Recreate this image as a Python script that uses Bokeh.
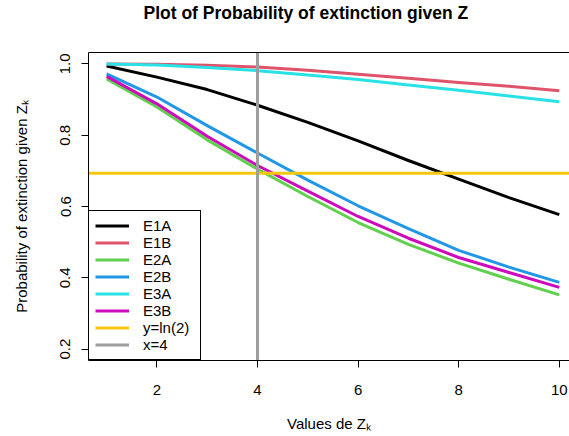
import numpy as np
from bokeh.plotting import figure
from bokeh.models import Range1d, LinearAxis, FixedTicker, Legend, LegendItem, Title
from bokeh.embed import file_html
from bokeh.resources import INLINE

# ---- data ----
Z = [1, 2, 3, 4, 5, 6, 7, 8, 9, 10]
E1A = [0.994, 0.963, 0.928, 0.884, 0.836, 0.784, 0.729, 0.677, 0.625, 0.577]
E1B = [1.000, 0.999, 0.996, 0.991, 0.982, 0.971, 0.960, 0.948, 0.937, 0.925]
E2A = [0.958, 0.879, 0.787, 0.705, 0.628, 0.555, 0.494, 0.441, 0.396, 0.352]
E2B = [0.972, 0.907, 0.827, 0.750, 0.674, 0.602, 0.538, 0.477, 0.430, 0.387]
E3A = [1.000, 0.997, 0.990, 0.981, 0.969, 0.956, 0.941, 0.926, 0.910, 0.894]
E3B = [0.965, 0.888, 0.797, 0.715, 0.643, 0.572, 0.511, 0.457, 0.415, 0.373]

SERIES_NAMES = ["E1A", "E1B", "E2A", "E2B", "E3A", "E3B"]
SERIES_VALUES = [E1A, E1B, E2A, E2B, E3A, E3B]
SERIES_COLORS = ["#000000", "#DF536B", "#61D04F", "#2297E6", "#28E2E5", "#CD0BBC"]

HLINE_Y = float(np.log(2))
HLINE_LABEL = "y=ln(2)"
HLINE_COLOR = "#F5C710"
VLINE_X = 4
VLINE_LABEL = "x=4"
VLINE_COLOR = "#9E9E9E"

X_TICKS = [2, 4, 6, 8, 10]
Y_TICKS = [0.2, 0.4, 0.6, 0.8, 1.0]
Y_TICK_LABELS = ["0.2", "0.4", "0.6", "0.8", "1.0"]

TITLE = "Plot of Probability of extinction given Z"
X_LABEL = "Values de Z\u2096"
Y_LABEL = "Probability of extinction given Z\u2096"

FONT = "Liberation Sans"

p = figure(width=569, height=436, output_backend="svg", toolbar_location=None,
           title=None,
           x_range=Range1d(0.64, 10.203), y_range=Range1d(0.168, 1.032),
           min_border_left=88, min_border_right=0, min_border_top=51,
           min_border_bottom=76,
           x_axis_label=X_LABEL, y_axis_label=Y_LABEL)
p.outline_line_color = None
p.grid.visible = False
p.background_fill_color = "white"
p.border_fill_color = "white"

for ax in (p.xaxis[0], p.yaxis[0]):
    ax.major_tick_out = 7
    ax.major_tick_in = 0
    ax.minor_tick_line_color = None
    ax.axis_line_color = "black"
    ax.major_tick_line_color = "black"
    ax.major_label_text_font = FONT
    ax.major_label_text_font_size = "15px"
    ax.major_label_text_color = "black"
    ax.axis_label_text_font = FONT
    ax.axis_label_text_font_size = "15px"
    ax.axis_label_text_font_style = "normal"
    ax.axis_label_text_color = "black"

p.xaxis[0].ticker = FixedTicker(ticks=X_TICKS)
p.xaxis[0].major_label_standoff = 17
p.xaxis[0].axis_label_standoff = 17

p.yaxis[0].ticker = FixedTicker(ticks=Y_TICKS)
p.yaxis[0].major_label_overrides = {t: l for t, l in zip(Y_TICKS, Y_TICK_LABELS)}
p.yaxis[0].major_label_orientation = "vertical"
p.yaxis[0].major_label_standoff = 11
p.yaxis[0].axis_label_standoff = 28

top_axis = LinearAxis(ticker=FixedTicker(ticks=[]), axis_line_color="black",
                      major_tick_line_color=None, minor_tick_line_color=None,
                      major_label_text_font_size="0px")
p.add_layout(top_axis, "above")

spacer = Title(text=" ", text_font_size="1px", standoff=27)
p.add_layout(spacer, "above")

title = Title(text=TITLE, text_font=FONT, text_font_style="bold",
              text_font_size="17.5px", text_color="black", align="left",
              offset=55, standoff=0)
p.add_layout(title, "above")

items = []
for name, vals, col in zip(SERIES_NAMES, SERIES_VALUES, SERIES_COLORS):
    r = p.line(Z, vals, line_color=col, line_width=3, line_join="round")
    items.append(LegendItem(label=name, renderers=[r]))

rh = p.line([min(Z) - 5, max(Z) + 5], [HLINE_Y, HLINE_Y], line_color=HLINE_COLOR, line_width=3)
items.append(LegendItem(label=HLINE_LABEL, renderers=[rh]))
rv = p.line([VLINE_X, VLINE_X], [-5, 5], line_color=VLINE_COLOR, line_width=3)
items.append(LegendItem(label=VLINE_LABEL, renderers=[rv]))

legend = Legend(items=items, location="bottom_left", margin=0, padding=6, spacing=0,
                glyph_height=17, label_height=17, glyph_width=34, label_standoff=14,
                label_width=51, border_line_color="black", border_line_width=1,
                border_line_alpha=1, background_fill_color="white", background_fill_alpha=1,
                label_text_font=FONT, label_text_font_size="15px", label_text_color="black")
p.add_layout(legend, "center")

open("out.html", "w").write(file_html(p, INLINE))
